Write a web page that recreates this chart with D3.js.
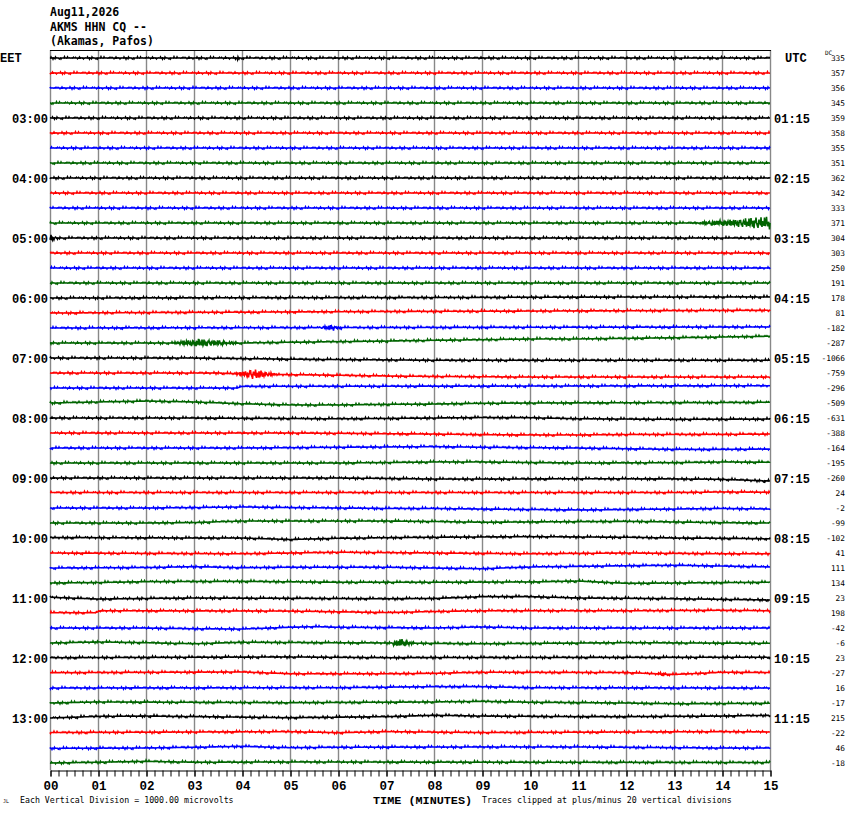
<!DOCTYPE html>
<html>
<head>
<meta charset="utf-8">
<script src="https://cdnjs.cloudflare.com/ajax/libs/d3/7.8.5/d3.min.js"></script>
<style>
body { margin: 0; background: #fff; }
svg { display: block; }
</style>
</head>
<body>
<svg id="heli"></svg>
<script>
const headerLines = ["Aug11,2026", "AKMS HHN CQ --", "(Akamas, Pafos)"];
const localHours = ["03:00", "04:00", "05:00", "06:00", "07:00", "08:00", "09:00", "10:00", "11:00", "12:00", "13:00"];
const utcHours = ["01:15", "02:15", "03:15", "04:15", "05:15", "06:15", "07:15", "08:15", "09:15", "10:15", "11:15"];
const minuteTicks = ["00", "01", "02", "03", "04", "05", "06", "07", "08", "09", "10", "11", "12", "13", "14", "15"];
const traceColors = ["#000000", "#ff0000", "#0000ff", "#006400"];

// DC offset printed on the right of each 15 minute line
const dcOffsets = [335, 357, 356, 345, 359, 358, 355, 351, 362, 342, 333, 371, 304, 303, 250, 191,
    178, 81, -182, -287, -1066, -759, -296, -509, -631, -388, -164, -195, -260, 24, -2, -99,
    -102, 41, 111, 134, 23, 198, -42, -6, 23, -27, 16, -17, 215, -22, 46, -18];

// slow drift of each line, [minute, microvolts]
const flat = [[0, 0], [15, 0]];
const baselineDrift = [
    flat, flat, flat, flat, flat, flat, flat, flat,
    flat, flat, flat, flat, flat, flat, flat, flat,
    [[0, 0], [8, 30], [11, 60], [15, 70]],
    [[0, 0], [7, 100], [15, 180]],
    [[0, 0], [15, 70]],
    [[0, 0], [4, 0], [5, 50], [6, 90], [7, 130], [8, 180], [9, 220], [10, 270], [11, 270], [12, 310], [13, 350], [14, 400], [15, 450]],
    [[0, 0], [3, 0], [5, -80], [8, -150], [15, -150]],
    [[0, 0], [3.5, 0], [4, -70], [5, -110], [6, -150], [7, -200], [8, -230], [9, -250], [10, -270], [15, -270]],
    [[0, 0], [3.9, 0], [4, 110], [10, 130], [15, 150]],
    [[0, 0], [1, 70], [2, 130], [3, 70], [4, -50], [5, -130], [6, -130], [7, -90], [8, -70], [9, -20], [10, 0], [14, 30], [15, 50]],
    [[0, 0], [3, 0], [4, -20], [6, -50], [7, -30], [8, 0], [9, 30], [10, 20], [11, -50], [12, -70], [13, -90], [15, -70]],
    [[0, 0], [5, 0], [6, -20], [7, -50], [8, -70], [9, -110], [10, -130], [11, -130], [12, -100], [14, -90], [15, -70]],
    [[0, 0], [4, 0], [5, 20], [6, 50], [7, 70], [8, 90], [9, 50], [10, 20], [11, 0], [12, -50], [13, -90], [14, -90], [15, -70]],
    [[0, 0], [6, 0], [7, 30], [8, 70], [9, 70], [10, 30], [11, 0], [13, 20], [14, 70], [15, 50]],
    [[0, 0], [6, 0], [7, -30], [8, -70], [9, -70], [11, -50], [13, -60], [14, -90], [15, -200]],
    [[0, 30], [13, 30], [14, 70], [15, 50]],
    [[0, 0], [2, 0], [3, 30], [4, 70], [5, 30], [6, 0], [7, -30], [8, -30], [9, -70], [10, -100], [11, -130], [12, -100], [13, -70], [14, -30], [15, -70]],
    [[0, 0], [2, 0], [3, 30], [4, 130], [7, 130], [8, 100], [9, 50], [10, 70], [11, 90], [12, 110], [13, 70], [14, 20], [15, 0]],
    [[0, 30], [3, 0], [4, 0], [5, -100], [6, -20], [7, 20], [8, 50], [9, 70], [10, 90], [11, 70], [12, 50], [13, 0], [14, -20], [15, -50]],
    [[0, 0], [4, -50], [5, 0], [6, 50], [8, 0], [10, -50], [12, 0], [14, -50], [15, -50]],
    [[0, 0], [2, 30], [3, 90], [4, 20], [5, 50], [7, 50], [8, 0], [9, -50], [10, 70], [11, 110], [12, 150], [13, 180], [14, 130], [15, 70]],
    [[0, 0], [1, 30], [2, 90], [4, 110], [6, 50], [8, 50], [10, 70], [11, 130], [12, -20], [13, 0], [15, 50]],
    [[0, 50], [1, -70], [2, -30], [3, 0], [5, -20], [7, -50], [8, -30], [9, 90], [10, 90], [11, 0], [12, -20], [13, -50], [14, -90], [15, -130]],
    [[0, 20], [0.95, 20], [1.05, 150], [5, 130], [7, 30], [8, 100], [9, 150], [12, 150], [14, 180], [15, 150]],
    [[0, 0], [2, 0], [3, -50], [4, -70], [5, 50], [5.5, 90], [6, 50], [8, 0], [9, 70], [10, 0], [15, 0]],
    [[0, 0], [1, 70], [2, 20], [3, -50], [4, 50], [7, 0], [9, -50], [12, 20], [15, -20]],
    [[0, 20], [5, 70], [7, 20], [8, 30], [15, 50]],
    [[0, 20], [4, 70], [5, -50], [7, -50], [8, -20], [9, 50], [12, 30], [13, -100], [14, 50], [15, 30]],
    [[0, 0], [6, 20], [8, 90], [9, 90], [10, 20], [14, 0], [15, 0]],
    [[0, 0], [1, 70], [5, 20], [8, 70], [9, 110], [10, 50], [12, 0], [13, -50], [15, -20]],
    [[0, 0], [1, 110], [2, 130], [5, 20], [7, 90], [8, 180], [9, 130], [11, 90], [12, 90], [14, 130], [15, 180]],
    [[0, 30], [5, 90], [6, 20], [7, 90], [9, 30], [14, 90], [15, 70]],
    [[0, -20], [2, 0], [3, 50], [4, 110], [5, 20], [6, 50], [9, 70], [11, 70], [14, 0], [15, 0]],
    [[0, 0], [1, 50], [2, 110], [3, 50], [5, 70], [15, 30]]
];

// wiggles: [line, start min, peak min, end min, peak microvolts]
const events = [
    [0, 3.88, 3.92, 3.96, 110],
    [11, 13.3, 15, 15, 430],
    [12, 0, 0, 0.15, 240],
    [18, 5.6, 5.85, 6.1, 170],
    [19, 2.5, 3.1, 3.95, 270],
    [21, 3.75, 4.3, 4.75, 320],
    [39, 7.1, 7.3, 7.6, 290],
    [41, 12.6, 12.75, 12.9, 120]
];

// background noise, microvolts (mostly flat with single-sample ticks)
const jitter = [0, 5, -5, 0, 55, 0, 5, -5, -60, 0, 5, 0, -5, 0, 65, 0, 5, -5, 0, 0,
    -45, 5, 0, -5, 0, 5, 70, 0, -5, 0, 5, -55, 0, 5, -5, 0, 0, 45, -5, 0,
    5, 0, -70, 0, 5, -5, 0, 0, 60, 5, -5, 0, 0, -45, 5, 0, -5, 80, 0, 5, -65,
    0, -5, 5, 0, 40, 0, -5, 0, 5, -40, 0, 5];
const ringing = [1, 0, 0, -0.7, 0.2, 0, -1, 0, 0.5, 0, 0.8, 0, -0.3, 0, -0.9, 0, 0.6, 0, 0,
    -0.4, 1, 0, -0.8, 0.3, 0, 0, -0.6, 0.9, 0, -0.5, 0];

const mono = "'DejaVu Sans Mono', monospace";
const bold = "'Liberation Mono', monospace";
const samplesPerMin = 96;

function main() {
    const svg = d3.select("svg#heli")
        .attr("width", 850)
        .attr("height", 814)
        .style("background", "#fff");

    const x = d3.scaleLinear().domain([0, 15]).range([50, 770]);
    const rowY = d3.scalePoint().domain(d3.range(dcOffsets.length)).range([58, 763]);
    const amp = d3.scaleLinear().domain([-1000, 1000]).range([15, -15]); // one division

    DrawFrame(svg, x);
    DrawTraces(svg, x, rowY, amp);
    DrawLabels(svg, x, rowY);
}

function DrawFrame(svg, x) {
    svg.append("g")
        .selectAll("line")
        .data(d3.range(0, 16))
        .join("line")
        .attr("x1", d => x(d) + 0.5)
        .attr("x2", d => x(d) + 0.5)
        .attr("y1", 50)
        .attr("y2", 770)
        .attr("stroke", "#888")
        .attr("stroke-width", 1.4);
    svg.append("line")
        .attr("x1", x(0)).attr("x2", x(15) + 1)
        .attr("y1", 50.5).attr("y2", 50.5)
        .attr("stroke", "#000");

    // 10 s ticks
    svg.append("g")
        .attr("transform", "translate(0.5,770.5)")
        .call(d3.axisBottom(x).tickValues(d3.range(0, 90 + 1).map(d => d / 6)).tickSize(6).tickSizeOuter(0).tickFormat(""))
        .call(g => g.selectAll("line,path").attr("stroke", "#000"));
    // minute labels
    const major = svg.append("g")
        .attr("transform", "translate(0.5,770.5)")
        .call(d3.axisBottom(x).tickValues(d3.range(0, 16)).tickSize(6).tickSizeOuter(0).tickPadding(5)
            .tickFormat(d => minuteTicks[d]));
    major.select(".domain").remove();
    major.selectAll("line").attr("stroke", "#000");
    major.selectAll("text")
        .attr("font-family", bold)
        .attr("font-weight", "bold")
        .attr("font-size", 12.5)
        .attr("fill", "#000");
}

function traceSamples(row) {
    const knots = baselineDrift[row];
    const drift = d3.scaleLinear().domain(knots.map(k => k[0])).range(knots.map(k => k[1]));
    const hits = events.filter(e => e[0] === row);
    return d3.range(0, 15 * samplesPerMin + 1).map(k => {
        const t = k / samplesPerMin;
        let v = drift(t) + jitter[(k * 7 + row * 13) % jitter.length];
        hits.forEach(([r, t0, tp, t1, a]) => {
            if (t < t0 || t > t1) return;
            const env = t <= tp ? (tp === t0 ? 1 : (t - t0) / (tp - t0)) : (t1 - t) / (t1 - tp);
            v += a * env * ringing[(k + row * 5) % ringing.length];
        });
        return { t: t, v: Math.max(-20000, Math.min(20000, v)) };
    });
}

function DrawTraces(svg, x, rowY, amp) {
    const g = svg.append("g");
    dcOffsets.forEach((dc, row) => {
        const line = d3.line()
            .x(d => x(d.t))
            .y(d => rowY(row) + amp(d.v));
        g.append("path")
            .datum(traceSamples(row))
            .attr("d", line)
            .attr("fill", "none")
            .attr("stroke", traceColors[row % 4])
            .attr("stroke-width", 1.6);
    });
}

function DrawLabels(svg, x, rowY) {
    headerLines.forEach((txt, i) => {
        svg.append("text").text(txt)
            .attr("x", 50)
            .attr("y", 16 + i * 14.7)
            .attr("font-family", mono)
            .attr("font-weight", "bold")
            .attr("font-size", 11.5)
            .attr("fill", "#000");
    });

    svg.append("text").text("EET")
        .attr("x", 0).attr("y", rowY(0) + 4)
        .attr("font-family", bold).attr("font-weight", "bold").attr("font-size", 12);
    svg.append("text").text("UTC")
        .attr("x", 785).attr("y", rowY(0) + 4)
        .attr("font-family", bold).attr("font-weight", "bold").attr("font-size", 12);

    localHours.forEach((txt, i) => {
        svg.append("text").text(txt)
            .attr("x", 48)
            .attr("y", rowY((i + 1) * 4) + 4.5)
            .attr("text-anchor", "end")
            .attr("font-family", bold)
            .attr("font-weight", "bold")
            .attr("font-size", 12);
    });
    utcHours.forEach((txt, i) => {
        svg.append("text").text(txt)
            .attr("x", 774)
            .attr("y", rowY((i + 1) * 4) + 4.5)
            .attr("font-family", bold)
            .attr("font-weight", "bold")
            .attr("font-size", 12);
    });

    svg.append("text").text("DC")
        .attr("x", 825).attr("y", 55)
        .attr("font-family", mono).attr("font-size", 6);
    dcOffsets.forEach((dc, row) => {
        svg.append("text").text(dc)
            .attr("x", 845)
            .attr("y", rowY(row) + 3)
            .attr("text-anchor", "end")
            .attr("font-family", mono)
            .attr("font-size", 7.8);
    });

    svg.append("text").text("JL")
        .attr("x", 3).attr("y", 803)
        .attr("font-family", mono).attr("font-size", 5);
    svg.append("text").text("Each Vertical Division = 1000.00 microvolts")
        .attr("x", 20).attr("y", 803)
        .attr("font-family", mono).attr("font-size", 8.25);
    svg.append("text").text("TIME (MINUTES)")
        .attr("x", 373).attr("y", 804)
        .attr("font-family", bold).attr("font-weight", "bold").attr("font-size", 11.8);
    svg.append("text").text("Traces clipped at plus/minus 20 vertical divisions")
        .attr("x", 482).attr("y", 803)
        .attr("font-family", mono).attr("font-size", 8.3);
}

main()
</script>
</body>
</html>
